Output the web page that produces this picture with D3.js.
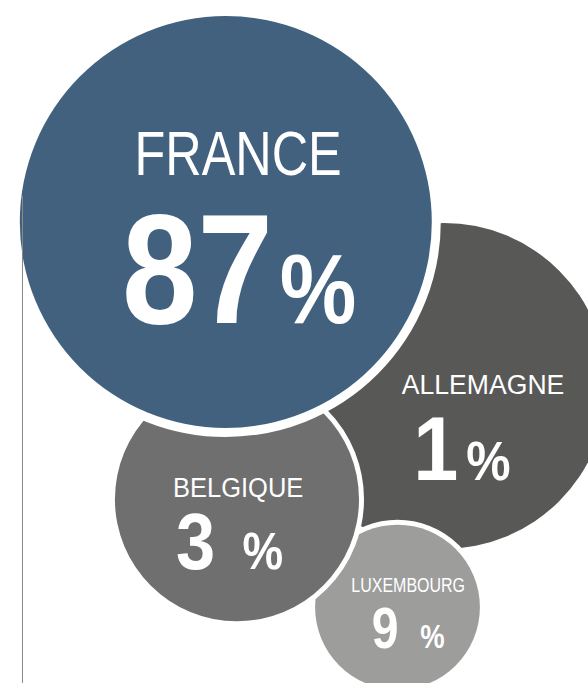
<!DOCTYPE html>
<html>
<head>
<meta charset="utf-8">
<script src="https://cdn.jsdelivr.net/npm/d3@7"></script>
<style>
  html, body { margin: 0; padding: 0; background: #fff; }
  svg { display: block; }
  text { font-family: "Liberation Sans Narrow", "Arial Narrow", "Liberation Sans", sans-serif; fill: #fff; }
</style>
</head>
<body>
<div id="chart"></div>
<script>
// data
var countries = ["ALLEMAGNE", "LUXEMBOURG", "BELGIQUE", "FRANCE"];
var shares = [1, 9, 3, 87];
// bubble area (relative, France = 100) and position in a 0-100 layout space
var bubbleSize = [62.6, 16.0, 35.1, 100];
var posX = [75.5, 67.6, 40.3, 38.4];
var posY = [56.5, 88.9, 73.1, 32.5];
var colors = ["#585857", "#9d9d9c", "#6f6f6f", "#41617f"];

// label styles per bubble (offsets as a fraction of the radius, sx = horizontal squeeze)
var labelStyle = [
    { ring: 11, dx: 0.24, dy: 0.05, size: 28, sx: 0.95, numDx: 0.11, numDy: 0.58, numSize: 91, pctSize: 56, gap: 9, numSx: 0.89 },
    { ring: 10, dx: 0.13, dy: -0.18, size: 19.5, sx: 0.82, numDx: 0.13, numDy: 0.49, numSize: 58, pctSize: 33, gap: 26, numSx: 0.83 },
    { ring: 10, dx: 0.01, dy: -0.02, size: 28, sx: 0.91, numDx: -0.06, numDy: 0.57, numSize: 80, pctSize: 52, gap: 31, numSx: 0.88 },
    { ring: 18, dx: 0.06, dy: -0.23, size: 63, sx: 0.80, numDx: 0.065, numDy: 0.49, numSize: 156, pctSize: 99, gap: 8, numSx: 0.87 }
];

var width = 588,
    height = 683;

var ds = countries.map(function(c, i) {
    return {
        name: c,
        share: shares[i],
        size: bubbleSize[i],
        x: posX[i],
        y: posY[i],
        color: colors[i],
        st: labelStyle[i]
    };
});

var xScale = d3.scaleLinear().domain([0, 100]).range([0, width]);
var yScale = d3.scaleLinear().domain([0, 100]).range([0, height]);
var rScale = d3.scaleSqrt().domain([0, 100]).range([0, 206]);

var svg = d3.select("#chart")
    .append("svg")
    .attr("width", width)
    .attr("height", height);

var bubble = svg.selectAll("g.bubble")
    .data(ds)
    .enter()
    .append("g")
    .attr("class", "bubble")
    .attr("transform", function(d) {
        return "translate(" + xScale(d.x) + "," + yScale(d.y) + ")";
    });

// white ring drawn behind the fill
bubble.append("circle")
    .attr("r", function(d) { return rScale(d.size); })
    .attr("fill", function(d) { return d.color; })
    .attr("stroke", "#fff")
    .attr("stroke-width", function(d) { return d.st.ring; })
    .attr("paint-order", "stroke");

bubble.append("text")
    .attr("text-anchor", "middle")
    .attr("transform", function(d) {
        var r = rScale(d.size);
        return "translate(" + (d.st.dx * r) + "," + (d.st.dy * r) + ") scale(" + d.st.sx + ",1)";
    })
    .style("font-size", function(d) { return d.st.size + "px"; })
    .text(function(d) { return d.name; });

var num = bubble.append("text")
    .attr("text-anchor", "middle")
    .attr("transform", function(d) {
        var r = rScale(d.size);
        return "translate(" + (d.st.numDx * r) + "," + (d.st.numDy * r) + ") scale(" + d.st.numSx + ",1)";
    })
    .style("font-weight", "bold");

num.append("tspan")
    .style("font-size", function(d) { return d.st.numSize + "px"; })
    .text(function(d) { return d.share; });

num.append("tspan")
    .attr("dx", function(d) { return d.st.gap; })
    .style("font-size", function(d) { return d.st.pctSize + "px"; })
    .text("%");

// thin vertical rule on the left
svg.append("line")
    .attr("x1", 22.5)
    .attr("x2", 22.5)
    .attr("y1", 196)
    .attr("y2", height)
    .attr("stroke", "#8a8a8a")
    .attr("stroke-width", 1);
</script>
</body>
</html>
